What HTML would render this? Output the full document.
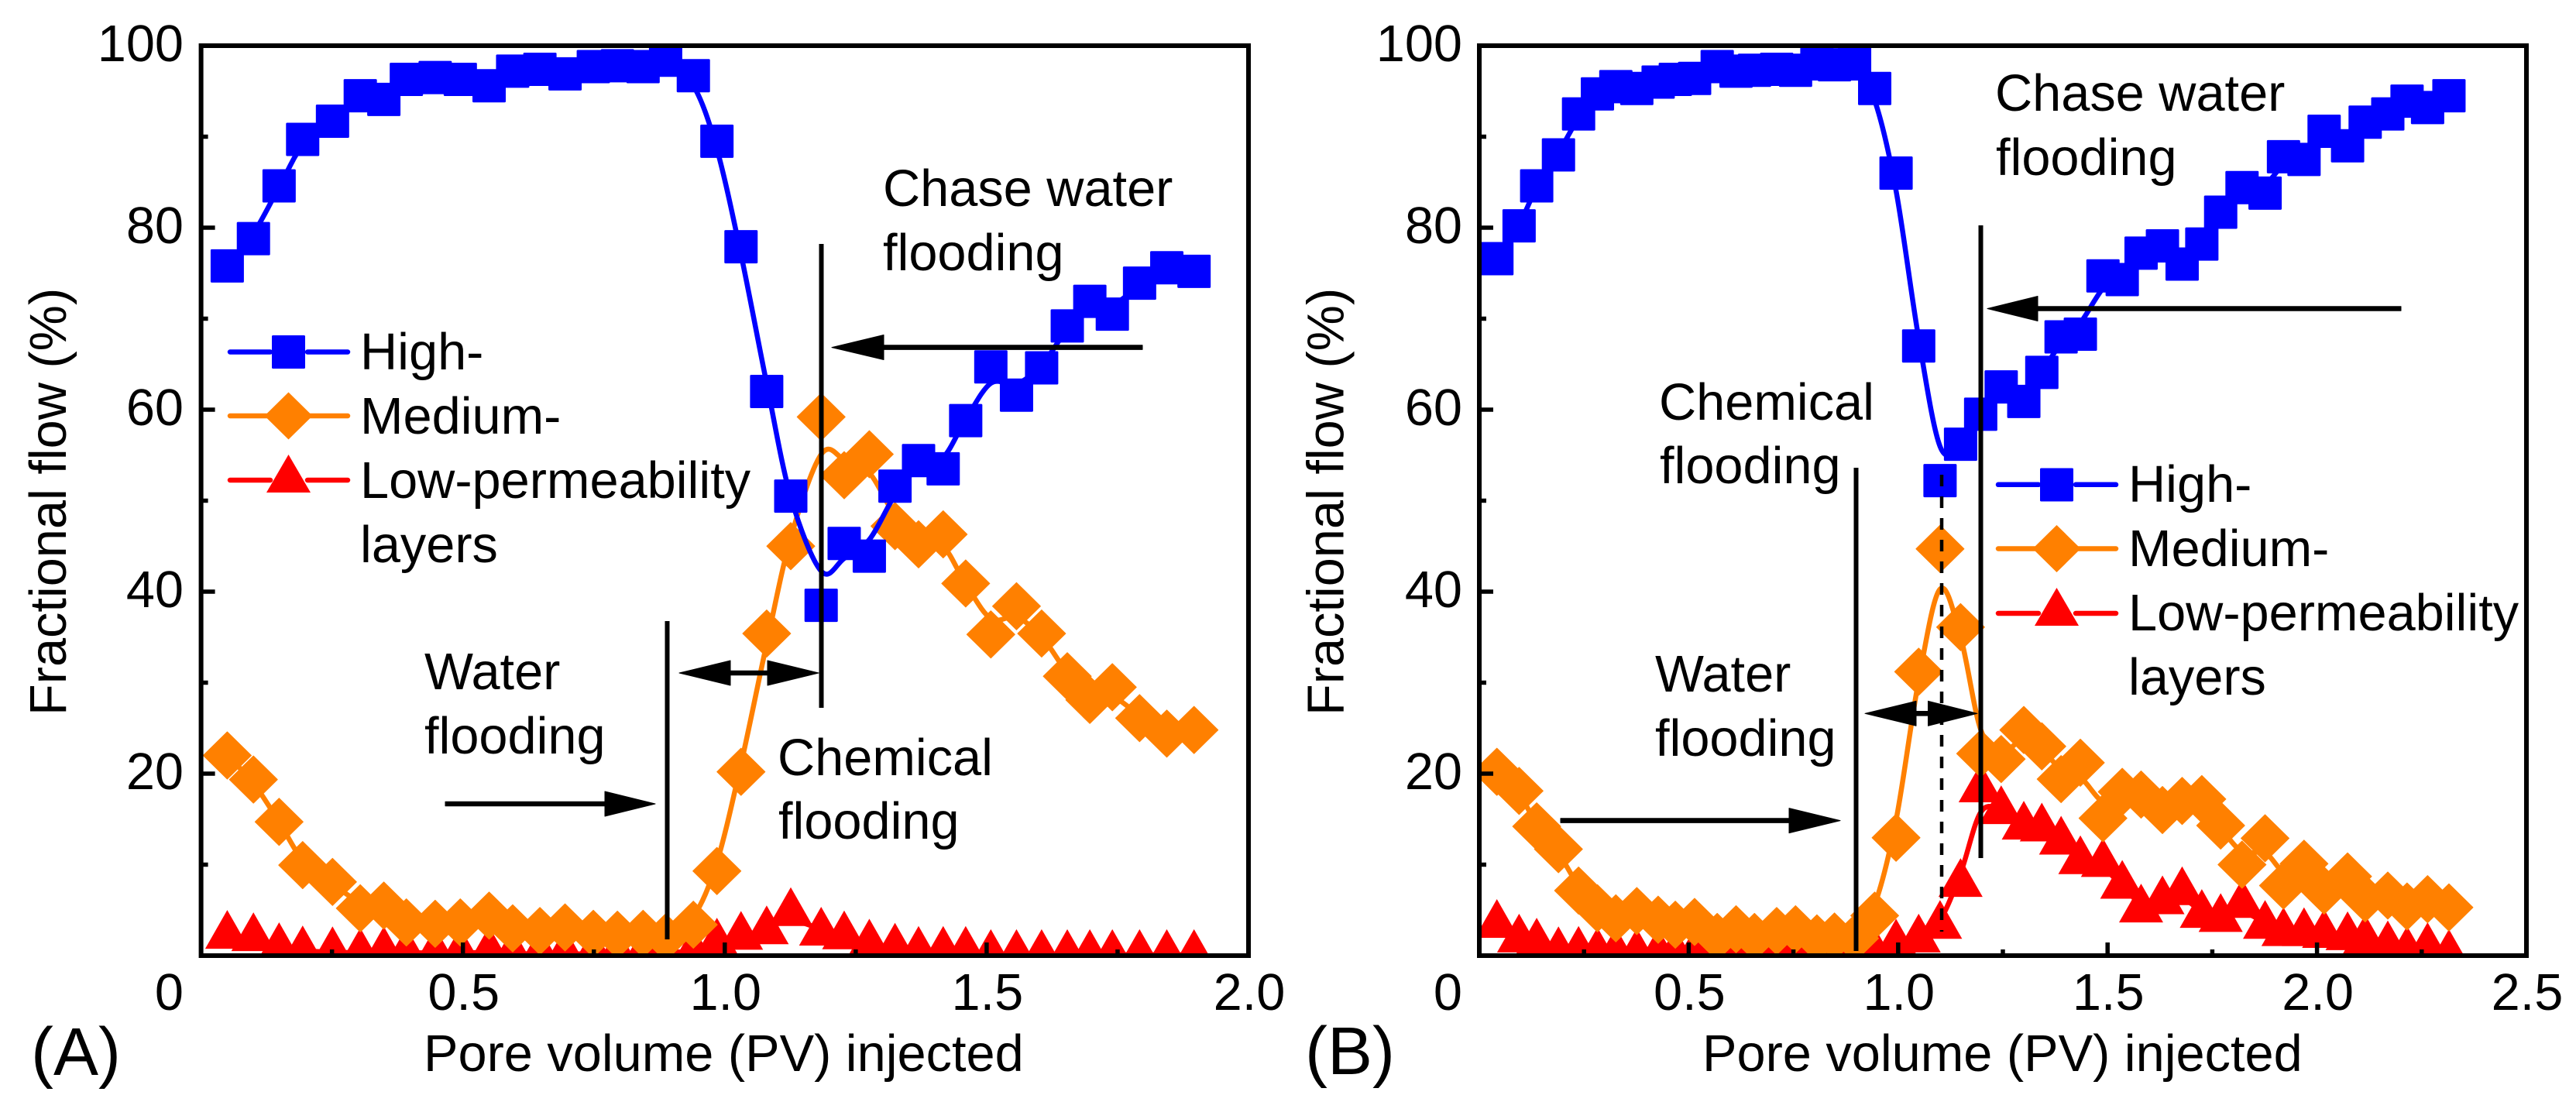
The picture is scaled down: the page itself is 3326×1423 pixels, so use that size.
<!DOCTYPE html>
<html lang="en">
<head>
<meta charset="utf-8">
<title>Fractional flow vs pore volume injected</title>
<style>
  html, body { margin: 0; padding: 0; background: #fff; }
  svg { display: block; }
  text { font-family: "Liberation Sans", Arial, sans-serif; font-size: 66.7px; fill: #000; }
</style>
</head>
<body>
<svg id="figure" xmlns="http://www.w3.org/2000/svg" width="3326" height="1423" viewBox="0 0 3326 1423">
  <rect x="0" y="0" width="3326" height="1423" fill="#fff"/>
  <defs>
    <clipPath id="clip-a"><rect x="260" y="59" width="1352" height="1175"/></clipPath>
    <clipPath id="clip-b"><rect x="1910" y="59" width="1352" height="1175"/></clipPath>
  </defs>
  <g id="panel-a"></g>
  <g id="panel-b"></g>

  <g>
    <line x1="861.5" y1="802" x2="861.5" y2="1213" stroke="#000" stroke-width="6"/>
    <line x1="1060.5" y1="315" x2="1060.5" y2="914" stroke="#000" stroke-width="6"/>
    <path d="M1475 445.8H1141V432.5L1074 448.6L1141 464.5V451.4H1475Z" fill="#000" stroke="#000" stroke-width="1" stroke-linejoin="round"/>
    <path d="M877 869L943 853V866.2H991V853L1057 869L991 885V871.8H943V885Z" fill="#000" stroke="#000" stroke-width="1" stroke-linejoin="round"/>
    <path d="M575 1035.2H781V1022L846 1038L781 1054V1040.8H575Z" fill="#000" stroke="#000" stroke-width="1" stroke-linejoin="round"/>
    <text x="1140" y="266">Chase water</text>
    <text x="1140" y="349">flooding</text>
    <text x="548" y="890">Water</text>
    <text x="548" y="973">flooding</text>
    <text x="1004" y="1001">Chemical</text>
    <text x="1005" y="1083">flooding</text>
  </g>

  <g stroke-linecap="round">
    <g>
      <path d="M297 454.5H349M397 454.5H449" stroke="#00f" stroke-width="6.5" fill="none"/>
      <rect x="351" y="433" width="43" height="43" rx="1.5" fill="#00f"/>
      <text x="465" y="477">High-</text>
    </g>
    <g>
      <path d="M297 537H345M400 537H449" stroke="#ff8000" stroke-width="6.5" fill="none"/>
      <polygon points="372.5,506.5 403.5,537 372.5,567.5 341.5,537" fill="#ff8000"/>
      <text x="465" y="560">Medium-</text>
    </g>
    <g>
      <path d="M297 620H349M397 620H449" stroke="#f00" stroke-width="6.5" fill="none"/>
      <polygon points="372.5,587 401,636 344,636" fill="#f00"/>
      <text x="465" y="643">Low-permeability</text>
      <text x="465" y="726">layers</text>
    </g>
  </g>

  <g>
    <line x1="2396.5" y1="604" x2="2396.5" y2="1228" stroke="#000" stroke-width="6"/>
    <line x1="2557.5" y1="291" x2="2557.5" y2="1108" stroke="#000" stroke-width="6"/>
    <line x1="2507" y1="613" x2="2507" y2="1203" stroke="#000" stroke-width="4.5" stroke-dasharray="15 13"/>
    <path d="M3100 395.7H2631V382.5L2566 398.5L2631 414.5V401.3H3100Z" fill="#000" stroke="#000" stroke-width="1" stroke-linejoin="round"/>
    <path d="M2408 921.3L2474 905.3V918.5H2489.5V905.3L2553 921.3L2489.5 937.3V924.1H2474V937.3Z" fill="#000" stroke="#000" stroke-width="1" stroke-linejoin="round"/>
    <path d="M2015 1056.8H2310V1043.6L2376 1059.6L2310 1075.6V1062.4H2015Z" fill="#000" stroke="#000" stroke-width="1" stroke-linejoin="round"/>
    <text x="2576" y="143">Chase water</text>
    <text x="2577" y="226">flooding</text>
    <text x="2142" y="542">Chemical</text>
    <text x="2143" y="624">flooding</text>
    <text x="2137" y="893">Water</text>
    <text x="2137" y="976">flooding</text>
  </g>

  <g stroke-linecap="round">
    <g>
      <path d="M2580 625.8H2632M2680 625.8H2732" stroke="#00f" stroke-width="6.5" fill="none"/>
      <rect x="2634" y="604.5" width="43" height="43" rx="1.5" fill="#00f"/>
      <text x="2748" y="648">High-</text>
    </g>
    <g>
      <path d="M2580 708.5H2628M2683 708.5H2732" stroke="#ff8000" stroke-width="6.5" fill="none"/>
      <polygon points="2655.5,678 2686.5,708.5 2655.5,739 2624.5,708.5" fill="#ff8000"/>
      <text x="2748" y="731">Medium-</text>
    </g>
    <g>
      <path d="M2580 792H2632M2680 792H2732" stroke="#f00" stroke-width="6.5" fill="none"/>
      <polygon points="2655.5,759 2684,808 2627,808" fill="#f00"/>
      <text x="2748" y="814">Low-permeability</text>
      <text x="2748" y="897">layers</text>
    </g>
  </g>

  <text x="40" y="1388" style="font-size:87px">(A)</text>
  <text x="1685" y="1387" style="font-size:87px">(B)</text>
</svg>

<script>
// Panel A data
const pvA = [0.05,0.10,0.149,0.194,0.251,0.304,0.349,0.392,0.447,0.495,0.55,0.595,0.647,0.695,0.749,0.795,0.844,0.887,0.94,0.985,1.031,1.08,1.126,1.184,1.228,1.276,1.325,1.37,1.417,1.46,1.508,1.557,1.605,1.654,1.697,1.74,1.792,1.844,1.896];
const highA = [75.8,78.8,84.6,89.7,91.7,94.5,94.1,96.3,96.5,96.3,95.6,97.2,97.4,96.9,97.7,97.8,97.7,98.4,96.7,89.5,77.9,62,50.5,38.5,45.3,43.9,51.6,54.4,53.5,58.8,64.7,61.6,64.6,69.2,71.9,70.5,73.9,75.6,75.2];
const mediumA = [22,19.35,14.7,9.95,8.1,5.2,5.5,3.65,3.5,3.65,4.4,3,2.7,3.1,2.4,2.3,2.4,2,3.4,9.3,20.2,35.4,45,59.2,52.8,55.1,47.2,45.2,46.3,40.9,35.3,38.4,35.4,30.7,28.1,29.5,26.1,24.4,24.8];
const lowA = [2.2,1.95,0.85,0.5,0.4,0.25,0.4,0.3,0.3,0.3,0.4,0.2,0.2,0.2,0.2,0.2,0.2,0.3,0.4,1.35,2.1,2.7,4.7,2.55,2.15,1.25,0.8,0.45,0.45,0.45,0.1,0.1,0.1,0.1,0.1,0.1,0.1,0.1,0.1];

// Panel B data
const pvB = [0.042,0.095,0.137,0.189,0.237,0.282,0.326,0.376,0.427,0.468,0.514,0.568,0.613,0.657,0.71,0.755,0.806,0.848,0.896,0.944,0.995,1.049,1.1,1.149,1.197,1.246,1.3,1.343,1.389,1.435,1.489,1.535,1.58,1.631,1.678,1.725,1.77,1.821,1.876,1.92,1.969,2.017,2.073,2.115,2.169,2.215,2.264,2.315];
const highB = [76.6,80.2,84.6,88,92.5,94.7,95.5,95.3,96,96.3,96.4,97.7,97.2,97.3,97.4,97.3,98,97.9,98,95.3,86,67,52.2,56.2,59.5,62.5,60.9,64.1,68,68.3,74.7,74.3,77.2,78,76,78.2,81.7,84.4,83.8,87.8,87.5,90.6,89,91.6,92.5,93.9,93.2,94.5];
const mediumB = [20.2,18.1,14.2,11.7,7.15,5.2,4.1,4.9,3.95,3.4,3.7,2.05,2.9,2.05,2.7,2.9,1.9,2.1,1.9,4.4,12.96,31.2,44.7,36.1,22.2,21.6,24.8,23,19.4,21.2,15.1,18,17.7,16,17,17.2,14.3,10,12.9,7.7,10.1,7.15,8.7,6.3,6.6,5.4,6.2,5.3];
const lowB = [3.4,1.8,1.35,0.4,0.45,0.3,0.3,0.2,0.2,0.2,0.2,0.2,0.2,0.2,0.2,0.2,0.2,0.2,0.2,0.3,1.25,1.8,3.3,7.9,18.3,15.9,14.2,14,12.55,10.4,10.1,7.7,5.1,6,7,4.5,4.05,5.6,3.3,2.5,2.5,2.3,2.05,1.7,1.05,0.45,0.85,0.1];

// Axis ticks and labels
const yTicks = [20,40,60,80,100];
const yMinorTicks = [10,30,50,70,90];
const xTicksA = [0.5,1,1.5,2];
const xTickLabelsA = ["0.5","1.0","1.5","2.0"];
const xMinorTicksA = [0.25,0.75,1.25,1.75];
const xTicksB = [0.5,1,1.5,2,2.5];
const xTickLabelsB = ["0.5","1.0","1.5","2.0","2.5"];
const xMinorTicksB = [0.25,0.75,1.25,1.75,2.25];
const zeroLabel = "0";
const xTitle = "Pore volume (PV) injected";
const yTitle = "Fractional flow (%)";

const NS = "http://www.w3.org/2000/svg";
function make(tag, attrs, parent) {
  const el = document.createElementNS(NS, tag);
  for (const k in attrs) el.setAttribute(k, attrs[k]);
  parent.appendChild(el);
  return el;
}
function yScale(v) { return 1234 - 11.75 * v; }

function smooth(vals) {
  return vals.map(function (v, i) {
    if (i === 0 || i === vals.length - 1) return v;
    return 0.2 * vals[i - 1] + 0.6 * v + 0.2 * vals[i + 1];
  });
}
function curvePath(xs, ys) {
  let d = "M" + xs[0].toFixed(1) + " " + ys[0].toFixed(1);
  for (let i = 0; i < xs.length - 1; i++) {
    const p0 = Math.max(i - 1, 0), p3 = Math.min(i + 2, xs.length - 1);
    const c1x = xs[i] + (xs[i + 1] - xs[p0]) / 6;
    const c1y = ys[i] + (ys[i + 1] - ys[p0]) / 6;
    const c2x = xs[i + 1] - (xs[p3] - xs[i]) / 6;
    const c2y = ys[i + 1] - (ys[p3] - ys[i]) / 6;
    d += "C" + c1x.toFixed(1) + " " + c1y.toFixed(1) + " " + c2x.toFixed(1) + " " + c2y.toFixed(1) + " " + xs[i + 1].toFixed(1) + " " + ys[i + 1].toFixed(1);
  }
  return d;
}

function drawSeries(parent, key, color, shape, pv, vals, xScale) {
  const g = make("g", {}, parent);
  
  
  const xs = pv.map(xScale);
  const ys = smooth(vals).map(yScale);
  const line = make("path", { d: curvePath(xs, ys), fill: "none", stroke: color, "stroke-width": 6.5, "stroke-linejoin": "round" }, g);
  
  
  vals.forEach(function (v, i) {
    const cx = xScale(pv[i]), cy = yScale(v);
    let m;
    if (shape === "square") {
      m = make("rect", { x: cx - 21.5, y: cy - 21.5, width: 43, height: 43, rx: 1.5, fill: color }, g);
    } else if (shape === "diamond") {
      m = make("polygon", { points: [cx, cy - 30.5, cx + 31, cy, cx, cy + 30.5, cx - 31, cy].join(" "), fill: color, stroke: color, "stroke-width": 1, "stroke-linejoin": "round" }, g);
    } else {
      m = make("polygon", { points: [cx, cy - 33, cx + 28.5, cy + 17, cx - 28.5, cy + 17].join(" "), fill: color }, g);
    }
    
    
  });
}

function drawPanel(id, left, right, maxX, clip, yLabelRight, yTitleX, titleX, pv, high, medium, low, ticks, tickLabels, minors) {
  const root = document.getElementById(id);
  const xScale = function (v) { return left + (right - left) * v / maxX; };
  const top = 59, bottom = 1234;
  const plot = make("g", { "clip-path": "url(#" + clip + ")" }, root);
  
  
  drawSeries(plot, 'low-permeability', '#ff0000', 'triangle', pv, low, xScale);
  drawSeries(plot, 'medium-permeability', '#ff8000', 'diamond', pv, medium, xScale);
  drawSeries(plot, 'high-permeability', '#0000ff', 'square', pv, high, xScale);

  const frame = make("rect", { x: left, y: top, width: right - left, height: bottom - top, fill: "none", stroke: "#000", "stroke-width": 6 }, root);
  
  

  yTicks.forEach(function (v) {
    const y = yScale(v);
    const t = make("line", { x1: left, y1: y, x2: left + 18, y2: y, stroke: "#000", "stroke-width": 5.5 }, root);
    
    
    const lab = make("text", { x: yLabelRight, y: y + 20, "text-anchor": "end" }, root);
    lab.textContent = String(v);
    
    
  });
  yMinorTicks.forEach(function (v) {
    const y = yScale(v);
    const t = make("line", { x1: left, y1: y, x2: left + 9, y2: y, stroke: "#000", "stroke-width": 5.5 }, root);
    
    
  });
  ticks.forEach(function (v, i) {
    const x = xScale(v);
    const t = make("line", { x1: x, y1: bottom, x2: x, y2: bottom - 17, stroke: "#000", "stroke-width": 5.5 }, root);
    
    
    const lab = make("text", { x: x + 1, y: 1304, "text-anchor": "middle" }, root);
    lab.textContent = tickLabels[i];
    
    
  });
  minors.forEach(function (v) {
    const x = xScale(v);
    const t = make("line", { x1: x, y1: bottom, x2: x, y2: bottom - 8, stroke: "#000", "stroke-width": 5.5 }, root);
    
    
  });
  const zero = make("text", { x: yLabelRight, y: 1304, "text-anchor": "end" }, root);
  zero.textContent = zeroLabel;
  
  

  const xt = make("text", { x: titleX, y: 1383 }, root);
  xt.textContent = xTitle;
  
  
  const yt = make("text", { x: 0, y: 0, transform: "translate(" + yTitleX + " 924) rotate(-90)" }, root);
  yt.textContent = yTitle;
  
  
}

drawPanel('panel-a', 259.6, 1612, 2, 'clip-a', 237, 85, 547, pvA, highA, mediumA, lowA, xTicksA, xTickLabelsA, xMinorTicksA);
drawPanel('panel-b', 1910, 3262, 2.5, 'clip-b', 1888, 1734.5, 2198, pvB, highB, mediumB, lowB, xTicksB, xTickLabelsB, xMinorTicksB);
</script>
</body>
</html>
